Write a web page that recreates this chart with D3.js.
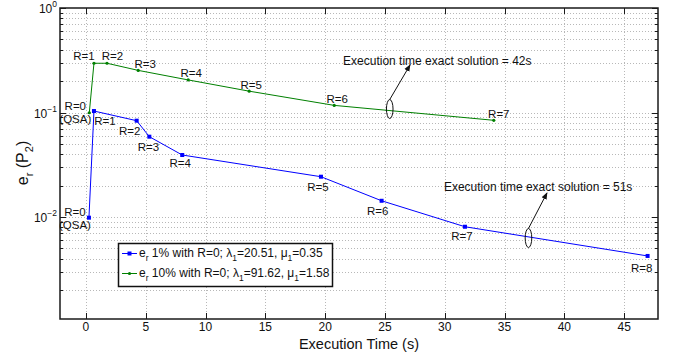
<!DOCTYPE html>
<html>
<head>
<meta charset="utf-8">
<script src="https://cdn.jsdelivr.net/npm/d3@7"></script>
<style>
  html, body { margin: 0; padding: 0; background: #fff; }
  svg { display: block; font-family: "Liberation Sans", Arial, Helvetica, sans-serif; }
</style>
</head>
<body>
<svg id="chart" width="673" height="352"></svg>
<script>
// Execution time (s) and relative error for each refinement level R
const levels = ["R=0", "R=1", "R=2", "R=3", "R=4", "R=5", "R=6", "R=7", "R=8"];

const timeErr1 = [0.25, 0.67, 4.24, 5.30, 8.05, 19.65, 24.72, 31.69, 46.96];
const errErr1  = [0.00985, 0.1033, 0.0835, 0.0587, 0.0392, 0.0243, 0.0143, 0.00807, 0.00424];

const timeErr10 = [0.28, 0.67, 1.76, 4.37, 8.55, 13.65, 20.76, 34.10];
const errErr10  = [0.0995, 0.296, 0.296, 0.253, 0.205, 0.160, 0.117, 0.0842];

const xTicks = [0, 5, 10, 15, 20, 25, 30, 35, 40, 45];
const yDecades = [1, 0.1, 0.01];
const yDecadeExp = ["0", "\u22121", "\u22122"];

// Exact-solution timing annotations: ellipse on the curve, arrow tip, text anchor
const noteText  = ["Execution time exact solution = 42s", "Execution time exact solution = 51s"];
const noteMarkX = [25.4, 37.0];
const noteMarkY = [0.108, 0.0063];
const noteTipX  = [27.1, 38.55];
const noteTipY  = [0.285, 0.0170];
const noteTextX = [21.5, 29.93];
const noteTextY = [0.311, 0.0195];

// label placement (pixel offsets from each point)
const offErr1  = [[-14,-6],[11,10],[-7,10],[-1,10],[-2,8],[-3,10],[-4,10],[-3,9],[-6,12]];
const offErr10 = [[-14,-7],[-10,-7],[5.5,-7],[7,-6],[3,-7],[2,-6],[3,-6],[5,-6]];

const svg = d3.select("#chart");
const m = { left: 60, right: 658, top: 8, bottom: 319 };

const x = d3.scaleLinear().domain([-2.17, 47.83]).range([m.left, m.right]);
const y = d3.scaleLog().domain([1.057e-3, 1]).range([m.bottom, m.top]);

const blue = "#0000ff", green = "#008000";
const labelFont = 11.5, tickFont = 12, noteFont = 12;

// clip for plot interior
svg.append("defs").append("clipPath").attr("id", "plotClip")
  .append("rect").attr("x", m.left).attr("y", m.top)
  .attr("width", m.right - m.left).attr("height", m.bottom - m.top);

// grid: vertical at x ticks, horizontal at every log tick
const yGrid = [];
[0.001, 0.01, 0.1].forEach(d => { for (let k = 1; k <= 9; k++) yGrid.push(d * k); });
yGrid.push(1);
const yGridIn = yGrid.filter(v => v >= 1.057e-3 && v <= 1);

const grid = svg.append("g").attr("stroke", "#b8b8b8").attr("stroke-width", 1)
  .attr("stroke-dasharray", "1,2").attr("fill", "none");
grid.selectAll("line.v").data(xTicks).join("line")
  .attr("x1", d => Math.round(x(d)) + 0.5).attr("x2", d => Math.round(x(d)) + 0.5)
  .attr("y1", m.top).attr("y2", m.bottom);
grid.selectAll("line.h").data(yGridIn.filter(v => v < 1)).join("line")
  .attr("x1", m.left).attr("x2", m.right)
  .attr("y1", d => Math.round(y(d)) + 0.5).attr("y2", d => Math.round(y(d)) + 0.5);

// axes frame & ticks
const axis = svg.append("g").attr("stroke", "#1a1a1a").attr("fill", "none");
axis.append("rect").attr("x", m.left).attr("y", m.top)
  .attr("width", m.right - m.left).attr("height", m.bottom - m.top).attr("stroke-width", 1.5);

xTicks.forEach(t => {
  const px = Math.round(x(t)) + 0.5;
  axis.append("line").attr("x1", px).attr("x2", px).attr("y1", m.bottom).attr("y2", m.bottom - 6);
  axis.append("line").attr("x1", px).attr("x2", px).attr("y1", m.top).attr("y2", m.top + 6);
});
yGridIn.forEach(v => {
  const major = yDecades.some(d => Math.abs(d - v) / d < 1e-9);
  const len = major ? 6 : 3;
  const py = Math.round(y(v)) + 0.5;
  axis.append("line").attr("x1", m.left).attr("x2", m.left + len).attr("y1", py).attr("y2", py);
  axis.append("line").attr("x1", m.right).attr("x2", m.right - len).attr("y1", py).attr("y2", py);
});

// x tick labels
svg.append("g").selectAll("text").data(xTicks).join("text")
  .attr("x", d => x(d)).attr("y", 331)
  .attr("text-anchor", "middle").attr("font-size", tickFont).attr("fill", "#111")
  .text(d => d);

// y tick labels: 10^n
yDecades.forEach((d, i) => {
  const t = svg.append("text").attr("x", 57).attr("y", y(d) + 5)
    .attr("text-anchor", "end").attr("font-size", tickFont).attr("fill", "#111");
  t.append("tspan").text("10");
  t.append("tspan").attr("font-size", 8.5).attr("dy", -6).text(yDecadeExp[i]);
});

// axis titles
svg.append("text").attr("x", (m.left + m.right) / 2).attr("y", 348.5)
  .attr("text-anchor", "middle").attr("font-size", 14.5).attr("fill", "#111")
  .text("Execution Time (s)");

const yl = svg.append("text").attr("transform", "translate(28,163) rotate(-90)")
  .attr("text-anchor", "middle").attr("font-size", 16).attr("fill", "#111");
yl.append("tspan").text("e");
yl.append("tspan").attr("font-size", 11).attr("dy", 5).text("r");
yl.append("tspan").attr("dy", -5).text(" (P");
yl.append("tspan").attr("font-size", 11).attr("dy", 5).text("2");
yl.append("tspan").attr("dy", -5).text(")");

// series
const line = d3.line().x(d => x(d[0])).y(d => y(d[1]));
const s1 = timeErr1.map((t, i) => [t, errErr1[i]]);
const s10 = timeErr10.map((t, i) => [t, errErr10[i]]);

const plot = svg.append("g").attr("clip-path", "url(#plotClip)");
plot.append("path").datum(s10).attr("d", line).attr("fill", "none").attr("stroke", green).attr("stroke-width", 1);
plot.selectAll("circle.g").data(s10).join("circle")
  .attr("cx", d => x(d[0])).attr("cy", d => y(d[1])).attr("r", 1.6).attr("fill", green);

plot.append("path").datum(s1).attr("d", line).attr("fill", "none").attr("stroke", blue).attr("stroke-width", 1);
plot.selectAll("rect.b").data(s1).join("rect")
  .attr("x", d => x(d[0]) - 2).attr("y", d => y(d[1]) - 2).attr("width", 4).attr("height", 4)
  .attr("fill", blue);

// point labels
function labels(series, offs) {
  series.forEach((d, i) => {
    svg.append("text").attr("x", x(d[0]) + offs[i][0]).attr("y", y(d[1]) + offs[i][1] + 4)
      .attr("text-anchor", "middle").attr("font-size", labelFont).attr("fill", "#111")
      .text(levels[i]);
    if (i === 0) {
      svg.append("text").attr("x", x(d[0]) + offs[i][0]).attr("y", y(d[1]) + offs[i][1] + 4 + 13)
        .attr("text-anchor", "middle").attr("font-size", labelFont).attr("fill", "#111")
        .text("(QSA)");
    }
  });
}
labels(s10, offErr10);
labels(s1, offErr1);

// annotations
svg.append("defs").append("marker").attr("id", "arrowHead")
  .attr("viewBox", "0 0 10 10").attr("refX", 9).attr("refY", 5)
  .attr("markerWidth", 7).attr("markerHeight", 7).attr("orient", "auto-start-reverse")
  .attr("markerUnits", "userSpaceOnUse")
  .append("path").attr("d", "M0,1 L10,5 L0,9 Z").attr("fill", "#111");

noteText.forEach((txt, i) => {
  const cx = x(noteMarkX[i]), cy = y(noteMarkY[i]);
  const ry = 9.5;
  svg.append("ellipse").attr("cx", cx).attr("cy", cy).attr("rx", 3.3).attr("ry", ry)
    .attr("fill", "none").attr("stroke", "#111").attr("stroke-width", 1);
  svg.append("line").attr("x1", cx).attr("y1", cy - ry)
    .attr("x2", x(noteTipX[i])).attr("y2", y(noteTipY[i]))
    .attr("stroke", "#111").attr("stroke-width", 1).attr("marker-end", "url(#arrowHead)");
  svg.append("text").attr("x", x(noteTextX[i])).attr("y", y(noteTextY[i]) + 4)
    .attr("font-size", noteFont).attr("fill", "#111").text(txt);
});

// legend
const lg = svg.append("g");
lg.append("rect").attr("x", 118.5).attr("y", 243.5).attr("width", 214).attr("height", 43)
  .attr("fill", "#fff").attr("stroke", "#111").attr("stroke-width", 1.5);
const legendRows = [
  { color: blue, shape: "square", parts: ["e", "r", " 1% with R=0; \u03bb", "1", "=20.51, \u03bc", "1", "=0.35"] },
  { color: green, shape: "dot", parts: ["e", "r", " 10% with R=0; \u03bb", "1", "=91.62, \u03bc", "1", "=1.58"] }
];
legendRows.forEach((r, i) => {
  const ly = 253.5 + i * 20;
  lg.append("line").attr("x1", 122).attr("x2", 137).attr("y1", ly).attr("y2", ly)
    .attr("stroke", r.color).attr("stroke-width", 1);
  if (r.shape === "square") {
    lg.append("rect").attr("x", 127.5).attr("y", ly - 2).attr("width", 4).attr("height", 4).attr("fill", r.color);
  } else {
    lg.append("circle").attr("cx", 129.5).attr("cy", ly).attr("r", 1.6).attr("fill", r.color);
  }
  const t = lg.append("text").attr("x", 139).attr("y", ly + 3.5).attr("font-size", 12).attr("fill", "#111");
  r.parts.forEach((p, k) => {
    const sub = k % 2 === 1;
    const ts = t.append("tspan").text(p);
    if (sub) ts.attr("font-size", 8.5).attr("dy", 4);
    else if (k > 0) ts.attr("dy", -4);
  });
});
</script>
</body>
</html>
